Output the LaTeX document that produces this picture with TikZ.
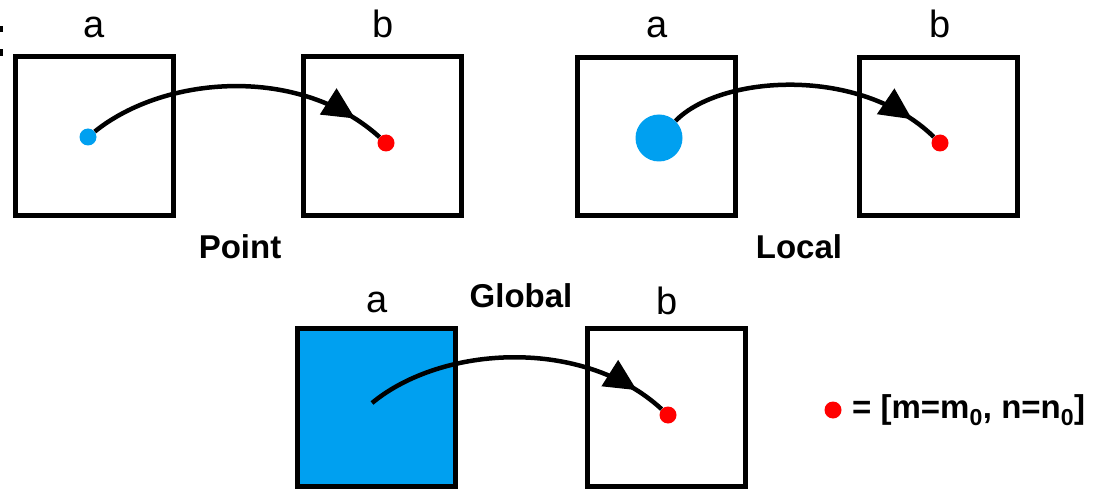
\documentclass[tikz,border=0pt]{standalone}
\usepackage{fontspec}
\setmainfont{Liberation Sans}
\usetikzlibrary{arrows.meta,decorations.markings,calc}
\definecolor{dotblue}{RGB}{0,160,240}
\definecolor{dotred}{RGB}{255,0,0}
\begin{document}
\begin{tikzpicture}[x=1pt,y=-1pt,
  frame/.style={draw=black, line width=5pt, minimum width=158pt, minimum height=158pt, inner sep=0pt, outer sep=0pt},
  bluebox/.style={frame, fill=dotblue},
  reddot/.style={circle, fill=dotred, inner sep=0pt, minimum size=17pt},
  bluedot/.style={circle, fill=dotblue, inner sep=0pt, minimum size=17pt},
  bigblue/.style={circle, fill=dotblue, inner sep=0pt, minimum size=47pt},
  lab/.style={font=\fontsize{38}{40}\selectfont, inner sep=0pt, anchor=base},
  title/.style={font=\bfseries\fontsize{33}{35}\selectfont, inner sep=0pt, anchor=base},
  legtext/.style={font=\bfseries\fontsize{33}{35}\selectfont, inner sep=0pt, anchor=west},
  conn/.style={line width=4.5pt, postaction={decorate},
    decoration={markings, mark=at position #1 with {\arrow{Triangle[length=32pt,width=30pt]}}}}
  ]
\useasboundingbox (0,0) rectangle (1097,489);
% edge artifacts
\fill (0,26) rectangle (3,32);
\fill (0,49) rectangle (3,56);

% ---- Point ----
\node[frame] (pa) at (94,136) {};
\node[frame] (pb) at (382.5,136) {};
\node[lab] (pla) at (94,38) {a};
\node[lab] (plb) at (383,38) {b};
\node[bluedot] (pbl) at (88,137) {};
\node[reddot] (pr) at (386,143) {};
\draw[conn=0.9] (pbl) .. controls ($(pbl)+(77,-62)$) and ($(pr)+(-86,-78)$) .. (pr);
\node[title] (pt) at (240,258) {Point};

% ---- Local ----
\node[frame] (la) at (656.5,136.5) {};
\node[frame] (lb) at (938,136.5) {};
\node[lab] (lla) at (657,38) {a};
\node[lab] (llb) at (940,38) {b};
\node[bigblue] (lbl) at (659,138) {};
\node[reddot] (lr) at (940,143) {};
\draw[conn=0.9] (lbl) .. controls ($(lbl)+(61,-63)$) and ($(lr)+(-80,-78)$) .. (lr);
\node[title] (lt) at (799,258) {Local};

% ---- Global ----
\node[bluebox] (ga) at (376.5,407) {};
\node[frame] (gb) at (666,407) {};
\node[lab] (gla) at (377,312) {a};
\node[lab] (glb) at (667,314) {b};
\coordinate (gs) at (372,403);
\node[reddot] (gr) at (668,415) {};
\draw[conn=0.9] (gs) .. controls ($(gs)+(70,-58)$) and ($(gr)+(-85,-78)$) .. (gr);
\node[title] (gt) at (521,307) {Global};

% ---- Legend ----
\node[reddot] (lgdot) at (833,410) {};
\node[legtext] (lgtext) at (852,410) {= [m=m\textsubscript{0}, n=n\textsubscript{0}]};
\end{tikzpicture}
\end{document}
